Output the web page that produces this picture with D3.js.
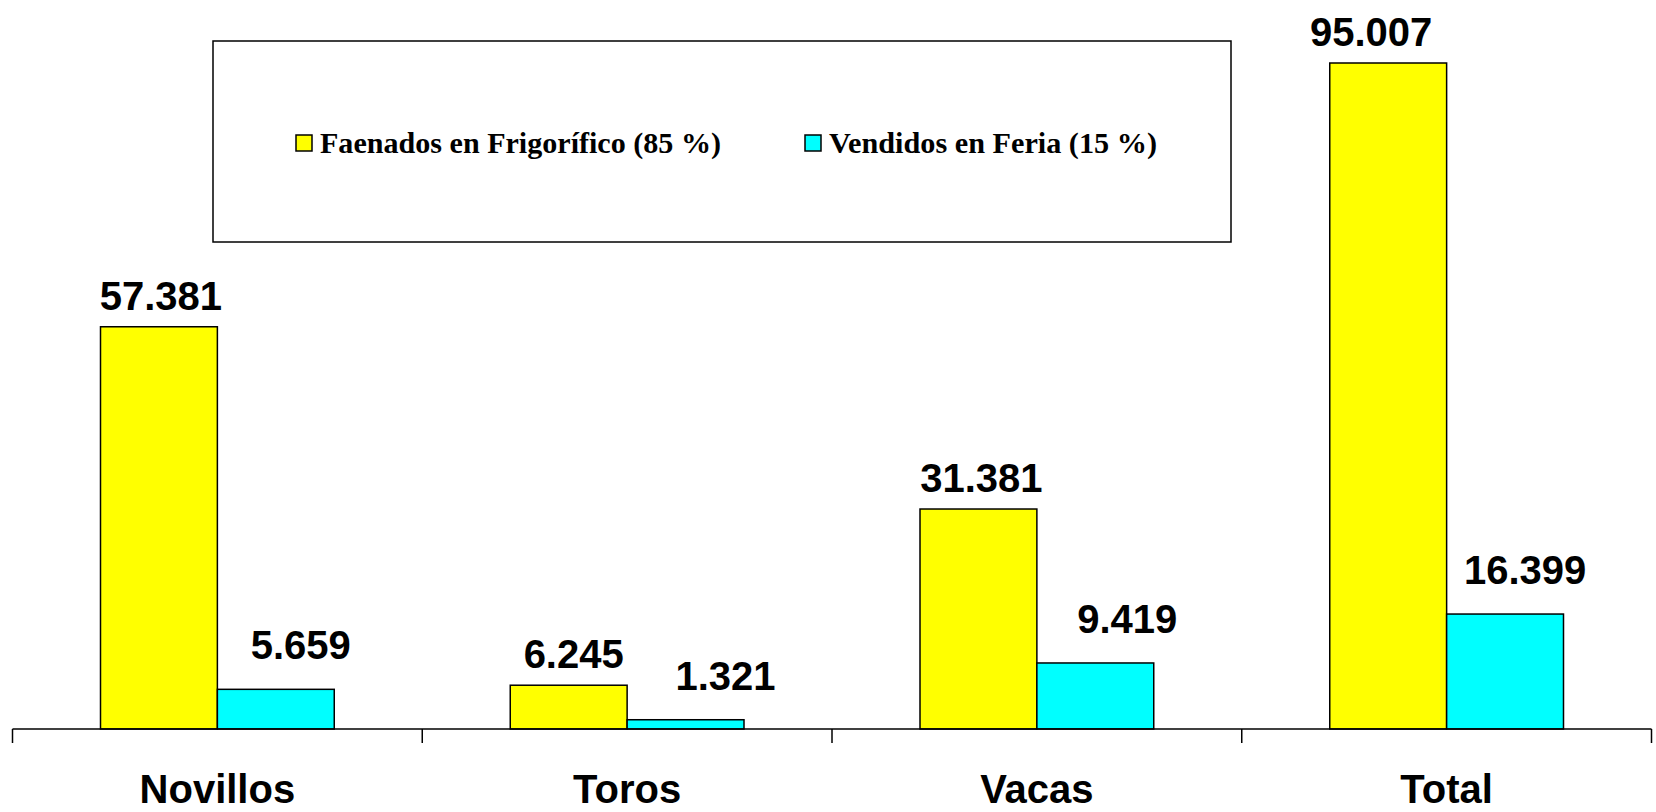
<!DOCTYPE html>
<html>
<head>
<meta charset="utf-8">
<script src="https://cdn.jsdelivr.net/npm/d3@7"></script>
<style>
  body { margin: 0; background: #fff; }
  svg { display: block; }
</style>
</head>
<body>
<div class="chartArea"></div>
<script>
const categories = ["Novillos", "Toros", "Vacas", "Total"];
const seriesNames = ["Faenados en Frigorífico (85 %)", "Vendidos en Feria (15 %)"];
const faenados = [57381, 6245, 31381, 95007];
const vendidos = [5659, 1321, 9419, 16399];
const seriesColors = ["#ffff00", "#00ffff"];
// label nudges (px) to match the hand-placed labels of the original
const labelDx = [[2, 5, 3, -17], [25, 40, 32, 20]];

const width = 1656;
const height = 812;
const baseY = 729;

const svg = d3.select(".chartArea")
    .append("svg")
    .attr("width", width)
    .attr("height", height);

const xScale = d3.scaleBand()
    .domain(categories)
    .range([12.5, 1651.5]);

const xSeries = d3.scaleBand()
    .domain([0, 1])
    .range([88, xScale.bandwidth() - 88]);

const yScale = d3.scaleLinear()
    .domain([0, 100000])
    .range([baseY, baseY - 701]);

const fmt = v => d3.format(",")(v).replace(/,/g, ".");

const data = [];
categories.forEach((c, i) => {
    data.push({cat: c, s: 0, v: faenados[i], i: i});
    data.push({cat: c, s: 1, v: vendidos[i], i: i});
});

svg.selectAll("rect.bar")
    .data(data)
    .enter()
    .append("rect")
    .attr("class", "bar")
    .attr("x", d => xScale(d.cat) + xSeries(d.s))
    .attr("y", d => yScale(d.v))
    .attr("width", xSeries.bandwidth())
    .attr("height", d => baseY - yScale(d.v))
    .attr("fill", d => seriesColors[d.s])
    .attr("stroke", "#000")
    .attr("stroke-width", 1.5);

svg.selectAll("text.val")
    .data(data)
    .enter()
    .append("text")
    .attr("class", "val")
    .attr("x", d => xScale(d.cat) + xSeries(d.s) + xSeries.bandwidth() / 2 + labelDx[d.s][d.i])
    .attr("y", d => yScale(d.v) - (d.s === 0 ? 17 : 30))
    .attr("text-anchor", "middle")
    .style("font-family", "Liberation Sans, Arial, sans-serif")
    .style("font-weight", "bold")
    .style("font-size", "40px")
    .text(d => fmt(d.v));

// x axis with ticks at category boundaries
const xAxis = d3.axisBottom(xScale).tickSize(0).tickFormat("");
const axisG = svg.append("g")
    .attr("transform", `translate(0,${baseY})`)
    .call(xAxis);
axisG.select(".domain").remove();
axisG.append("line")
    .attr("x1", xScale.range()[0]).attr("x2", xScale.range()[1])
    .attr("y1", 0).attr("y2", 0)
    .attr("stroke", "#000").attr("stroke-width", 1.5);
const bounds = categories.map(c => xScale(c)).concat([xScale.range()[1]]);
axisG.selectAll("line.tk")
    .data(bounds)
    .enter()
    .append("line")
    .attr("class", "tk")
    .attr("x1", d => d).attr("x2", d => d)
    .attr("y1", 0).attr("y2", 14)
    .attr("stroke", "#000").attr("stroke-width", 1.5);

svg.selectAll("text.cat")
    .data(categories)
    .enter()
    .append("text")
    .attr("class", "cat")
    .attr("x", d => xScale(d) + xScale.bandwidth() / 2)
    .attr("y", 803)
    .attr("text-anchor", "middle")
    .style("font-family", "Liberation Sans, Arial, sans-serif")
    .style("font-weight", "bold")
    .style("font-size", "40px")
    .text(d => d);

// legend
const legend = svg.append("g");
legend.append("rect")
    .attr("x", 213).attr("y", 41)
    .attr("width", 1018).attr("height", 201)
    .attr("fill", "#fff")
    .attr("stroke", "#000")
    .attr("stroke-width", 1.5);

const legX = [296, 805];
const legW = [401, 328];
seriesNames.forEach((name, i) => {
    legend.append("rect")
        .attr("x", legX[i]).attr("y", 135)
        .attr("width", 16).attr("height", 16)
        .attr("fill", seriesColors[i])
        .attr("stroke", "#000")
        .attr("stroke-width", 1.5);
    legend.append("text")
        .attr("x", legX[i] + 24)
        .attr("y", 152.5)
        .attr("textLength", legW[i])
        .attr("lengthAdjust", "spacingAndGlyphs")
        .style("font-family", "Liberation Serif, Times New Roman, serif")
        .style("font-weight", "bold")
        .style("font-size", "29px")
        .text(name);
});
</script>
</body>
</html>
